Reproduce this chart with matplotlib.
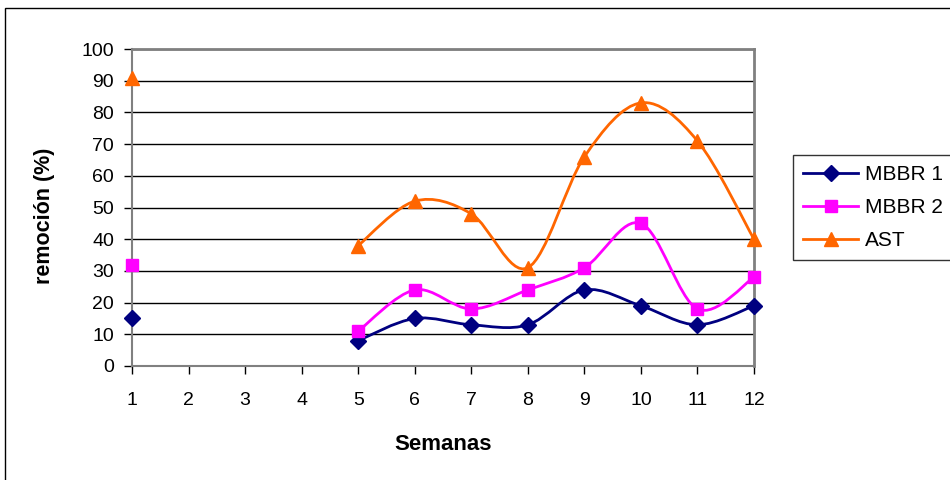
import numpy as np
import matplotlib
matplotlib.use("Agg")
import matplotlib.pyplot as plt
from matplotlib.path import Path
from matplotlib.patches import PathPatch, Rectangle
from matplotlib.lines import Line2D

plt.rcParams['font.family'] = ['Liberation Sans', 'DejaVu Sans']

weeks = [1, 2, 3, 4, 5, 6, 7, 8, 9, 10, 11, 12]
mbbr1 = [15, None, None, None, 8, 15, 13, 13, 24, 19, 13, 19]
mbbr2 = [32, None, None, None, 11, 24, 18, 24, 31, 45, 18, 28]
ast = [91, None, None, None, 38, 52, 48, 31, 66, 83, 71, 40]

series = [
    ("MBBR 1", mbbr1, "#000080", "D", 8),
    ("MBBR 2", mbbr2, "#FF00FF", "s", 9),
    ("AST", ast, "#FF6600", "^", 10),
]


def smooth_path(xs, ys):
    # Excel-like smoothed line: cubic bezier through the points
    pts = np.column_stack([xs, ys]).astype(float)
    n = len(pts)
    verts = [pts[0]]
    codes = [Path.MOVETO]
    for i in range(n - 1):
        p0 = pts[i - 1] if i > 0 else pts[i]
        p1 = pts[i]
        p2 = pts[i + 1]
        p3 = pts[i + 2] if i + 2 < n else pts[i + 1]
        c1 = p1 + (p2 - p0) / 6.0
        c2 = p2 - (p3 - p1) / 6.0
        verts += [c1, c2, p2]
        codes += [Path.CURVE4] * 3
    return Path(verts, codes)


fig = plt.figure(figsize=(9.5, 4.8), dpi=100)
fig.patches.append(Rectangle((5 / 950, -0.05), 1.1, 1 - 8 / 480 + 0.05,
                             transform=fig.transFigure, fill=False,
                             edgecolor="black", lw=1))
ax = fig.add_axes([132 / 950, 1 - 366 / 480, 622 / 950, 317 / 480])

handles = []
for name, vals, color, mk, ms in series:
    # segments of consecutive valid values
    seg_x, seg_y = [], []
    segs = []
    for w, v in zip(weeks, vals):
        if v is None:
            if seg_x:
                segs.append((seg_x, seg_y))
            seg_x, seg_y = [], []
        else:
            seg_x.append(w)
            seg_y.append(v)
    if seg_x:
        segs.append((seg_x, seg_y))
    for sx, sy in segs:
        if len(sx) > 1:
            ax.add_patch(PathPatch(smooth_path(sx, sy), fill=False,
                                   edgecolor=color, lw=2, zorder=3,
                                   clip_on=False))
        ax.plot(sx, sy, linestyle="none", marker=mk, ms=ms, color=color,
                zorder=4, clip_on=False)
    handles.append(Line2D([], [], color=color, lw=2, marker=mk, ms=ms))

ax.set_xlim(1, 12)
ax.set_ylim(0, 100)
ax.set_xticks(weeks)
ax.set_yticks(range(0, 101, 10))
ax.tick_params(labelsize=14, direction="out", length=6, width=1, colors="black")
ax.tick_params(axis="x", pad=13)
ax.tick_params(axis="y", pad=7)
ax.yaxis.grid(True, color="black", lw=1)
ax.set_axisbelow(True)
for s in ["top", "right"]:
    ax.spines[s].set_color("#808080")
    ax.spines[s].set_linewidth(2)
for s in ["left", "bottom"]:
    ax.spines[s].set_color("#808080")
    ax.spines[s].set_linewidth(1.5)

ax.set_xlabel("Semanas", fontsize=16, fontweight="bold", labelpad=18)
ax.set_ylabel("remoción (%)", fontsize=15.5, fontweight="bold")
ax.yaxis.set_label_coords(-0.123, 0.475)

leg = fig.legend(handles, [s[0] for s in series], loc="upper left",
                 bbox_to_anchor=(793 / 950, 1 - 155 / 480), fontsize=15,
                 frameon=True, fancybox=False, edgecolor="black",
                 handlelength=2.6, borderpad=0.5, labelspacing=0.66,
                 handletextpad=0.35, borderaxespad=0)
leg.get_frame().set_linewidth(1)

fig.savefig("out.png", dpi=100)
